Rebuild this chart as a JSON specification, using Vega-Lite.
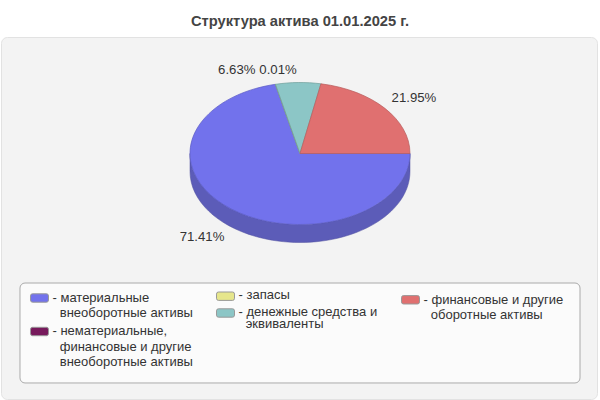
{
  "$schema": "https://vega.github.io/schema/vega-lite/v6.json",
  "autosize": "none",
  "width": 596,
  "height": 362,
  "padding": {"left": 1, "top": 37, "right": 3, "bottom": 1},
  "background": "#ffffff",
  "title": {
    "text": "Структура актива 01.01.2025 г.",
    "font": "Liberation Sans",
    "fontSize": 14.7,
    "fontWeight": "bold",
    "color": "#444444",
    "anchor": "middle",
    "dx": 1,
    "offset": 8
  },
  "config": {
    "view": {"fill": "#f3f3f3", "stroke": "#e2e2e2", "cornerRadius": 6},
    "text": {"font": "Liberation Sans", "fontSize": 13.2, "color": "#333333"}
  },
  "data": {
    "values": [
      {"category": "материальные\nвнеоборотные активы", "share": 0.7141},
      {"category": "нематериальные,\nфинансовые и другие\nвнеоборотные активы", "share": 0},
      {"category": "запасы", "share": 0.0001},
      {"category": "денежные средства и\nэквиваленты", "share": 0.0663},
      {"category": "финансовые и другие\nоборотные активы", "share": 0.2195}
    ]
  },
  "encoding": {
    "x": {"datum": 0, "type": "quantitative", "axis": null, "scale": {"domain": [-2.71818, 2.7], "nice": false, "zero": false}},
    "y": {"datum": 0, "type": "quantitative", "axis": null, "scale": {"domain": [-3.4577, 1.6408], "nice": false, "zero": false}}
  },
  "layer": [
    {
      "data": {"values": [{}]},
      "mark": {"type": "rect", "fill": "#fbfbfb", "stroke": "#aaaaaa", "cornerRadius": 5},
      "encoding": {
        "x": {"datum": -2.5455, "type": "quantitative"},
        "x2": {"datum": 2.5455},
        "y": {"datum": -1.824, "type": "quantitative"},
        "y2": {"datum": -3.232}
      }
    },
    {
      "transform": [{"filter": "datum.share > 0.5"}],
      "mark": {
        "type": "point",
        "filled": true,
        "opacity": 1,
        "size": 4,
        "color": "#5c5cb8",
        "stroke": "#50509f",
        "strokeWidth": 0.5,
        "shape": "M-110,0 A110,71 0 0 0 110,0 L110,18 A110,71 0 0 1 -110,18 Z"
      }
    },
    {
      "encoding": {
        "color": {
          "field": "category",
          "type": "nominal",
          "sort": null,
          "scale": {
            "domain": [
              "материальные\nвнеоборотные активы",
              "нематериальные,\nфинансовые и другие\nвнеоборотные активы",
              "запасы",
              "денежные средства и\nэквиваленты",
              "финансовые и другие\nоборотные активы"
            ],
            "range": ["#7272ec", "#771a5c", "#e6e68c", "#8cc6c6", "#e07070"]
          },
          "legend": {
            "title": null,
            "orient": "none",
            "legendX": 31,
            "legendY": 253.5,
            "columns": 3,
            "direction": "vertical",
            "gridAlign": "none",
            "zindex": 1,
            "padding": 0,
            "rowPadding": -17.5,
            "columnPadding": 21,
            "symbolType": "M-1,-0.6 L1,-0.6 Q1.286,-0.6 1.286,-0.3 L1.286,0.3 Q1.286,0.6 1,0.6 L-1,0.6 Q-1.286,0.6 -1.286,0.3 L-1.286,-0.3 Q-1.286,-0.6 -1,-0.6 Z",
            "symbolSize": 196,
            "symbolStrokeColor": "#999999",
            "symbolStrokeWidth": 1,
            "symbolOpacity": 1,
            "labelFont": "Liberation Sans",
            "labelFontSize": 13,
            "labelColor": "#333333",
            "labelBaseline": "top",
            "labelLimit": 0,
            "labelOffset": 5.5,
            "labelExpr": "split(replace('- ' + datum.label, /\\n/g, '\\n\u200b\u00a0\u00a0'), '\\n')",
            "encode": {
              "symbols": {
                "update": {
                  "y": {"signal": "indexof(datum.value, 'нематериальные') == 0 ? 26.5 : indexof(datum.value, 'запасы') == 0 ? 5.7 : indexof(datum.value, 'денежные') == 0 ? 8 : indexof(datum.value, 'финансовые') == 0 ? 9.3 : 7.5"}
                }
              },
              "labels": {
                "update": {
                  "dy": {"signal": "indexof(datum.value, 'нематериальные') == 0 ? 12.5 : indexof(datum.value, 'запасы') == 0 ? -8.8 : indexof(datum.value, 'финансовые') == 0 ? -4.5 : -6.5"},
                  "lineHeight": {"signal": "indexof(datum.value, 'денежные') == 0 ? 12 : 15.5"}
                }
              }
            }
          }
        }
      },
      "layer": [
        {
          "transform": [{"filter": "datum.share == 0.7141"}],
          "mark": {"type": "point", "filled": true, "opacity": 1, "size": 4, "strokeWidth": 0.7, "stroke": "#5c5cc4", "shape": "M0,0 L-24.6,-69.2 A110,71 0 1 0 110,0 Z"}
        },
        {
          "transform": [{"filter": "datum.share == 0.0001"}],
          "mark": {"type": "point", "filled": true, "opacity": 1, "size": 4, "strokeWidth": 0.7, "stroke": "#8f9f80", "shape": "M0,0 L-24.5,-69.2 L-24.6,-69.2 Z"}
        },
        {
          "transform": [{"filter": "datum.share == 0.0663"}],
          "mark": {"type": "point", "filled": true, "opacity": 1, "size": 4, "strokeWidth": 0.7, "stroke": "#6f9e9a", "shape": "M0,0 L20.95,-69.7 A110,71 0 0 0 -24.5,-69.2 Z"}
        },
        {
          "transform": [{"filter": "datum.share == 0.2195"}],
          "mark": {"type": "point", "filled": true, "opacity": 1, "size": 4, "strokeWidth": 0.7, "stroke": "#b85c5c", "shape": "M0,0 L110,0 A110,71 0 0 0 20.95,-69.7 Z"}
        }
      ]
    },
    {
      "transform": [{"filter": "datum.share == 0.7141"}],
      "mark": {"type": "text"},
      "encoding": {
        "x": {"datum": -0.891, "type": "quantitative"},
        "y": {"datum": -1.173, "type": "quantitative"},
        "text": {"field": "share", "type": "quantitative", "format": ".2%"}
      }
    },
    {
      "transform": [{"filter": "datum.share == 0.0001"}],
      "mark": {"type": "text"},
      "encoding": {
        "x": {"datum": -0.2, "type": "quantitative"},
        "y": {"datum": 1.172, "type": "quantitative"},
        "text": {"field": "share", "type": "quantitative", "format": ".2%"}
      }
    },
    {
      "transform": [{"filter": "datum.share == 0.0663"}],
      "mark": {"type": "text"},
      "encoding": {
        "x": {"datum": -0.575, "type": "quantitative"},
        "y": {"datum": 1.172, "type": "quantitative"},
        "text": {"field": "share", "type": "quantitative", "format": ".2%"}
      }
    },
    {
      "transform": [{"filter": "datum.share == 0.2195"}],
      "mark": {"type": "text"},
      "encoding": {
        "x": {"datum": 1.036, "type": "quantitative"},
        "y": {"datum": 0.782, "type": "quantitative"},
        "text": {"field": "share", "type": "quantitative", "format": ".2%"}
      }
    }
  ]
}
